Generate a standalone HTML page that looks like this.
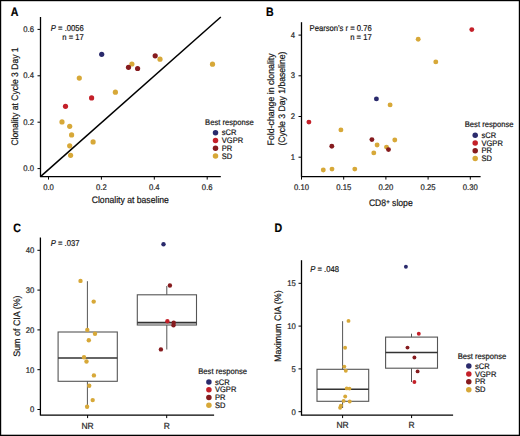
<!DOCTYPE html>
<html><head><meta charset="utf-8"><title>Figure</title>
<style>
html,body{margin:0;padding:0;background:#fff;}
body{width:520px;height:436px;overflow:hidden;}
svg{display:block;}
text{font-family:"Liberation Sans", sans-serif;text-rendering:geometricPrecision;}
</style></head>
<body>
<svg width="520" height="436" viewBox="0 0 520 436">
<rect x="0" y="0" width="520" height="436" fill="#fff"/>
<text transform="translate(10.8,16.0) scale(0.87,1)" font-size="12.2" text-anchor="start" fill="#000" stroke="#000" stroke-width="0.2" font-weight="bold" >A</text>
<circle cx="101.7" cy="54.3" r="2.6" fill="#2a2a6c"/>
<circle cx="79.3" cy="78.1" r="2.6" fill="#d7a838"/>
<circle cx="115.4" cy="92.2" r="2.6" fill="#d7a838"/>
<circle cx="91.6" cy="97.9" r="2.6" fill="#c42029"/>
<circle cx="65.5" cy="106.3" r="2.6" fill="#c42029"/>
<circle cx="131.9" cy="64.0" r="2.6" fill="#d7a838"/>
<circle cx="128.5" cy="67.3" r="2.6" fill="#861b1e"/>
<circle cx="137.6" cy="68.5" r="2.6" fill="#861b1e"/>
<circle cx="155.2" cy="55.8" r="2.6" fill="#861b1e"/>
<circle cx="160.0" cy="59.2" r="2.6" fill="#d7a838"/>
<circle cx="212.5" cy="64.2" r="2.6" fill="#d7a838"/>
<circle cx="62.0" cy="121.9" r="2.6" fill="#d7a838"/>
<circle cx="69.7" cy="126.3" r="2.6" fill="#d7a838"/>
<circle cx="71.6" cy="134.9" r="2.6" fill="#d7a838"/>
<circle cx="69.7" cy="145.8" r="2.6" fill="#d7a838"/>
<circle cx="70.6" cy="155.3" r="2.6" fill="#d7a838"/>
<circle cx="93.1" cy="141.9" r="2.6" fill="#d7a838"/>
<line x1="40.5" y1="176.6" x2="220.8" y2="17" stroke="#000" stroke-width="1.5"/>
<line x1="40.5" y1="17" x2="40.5" y2="176.9" stroke="#000000" stroke-width="1.3"/>
<line x1="37.5" y1="168.6" x2="40.5" y2="168.6" stroke="#000000" stroke-width="1.0"/>
<text transform="translate(34.0,171.25) scale(0.94,1)" font-size="8.2" text-anchor="end" fill="#262626" stroke="#262626" stroke-width="0.2" font-weight="normal" >0.0</text>
<line x1="37.5" y1="122.2" x2="40.5" y2="122.2" stroke="#000000" stroke-width="1.0"/>
<text transform="translate(34.0,124.85) scale(0.94,1)" font-size="8.2" text-anchor="end" fill="#262626" stroke="#262626" stroke-width="0.2" font-weight="normal" >0.2</text>
<line x1="37.5" y1="75.8" x2="40.5" y2="75.8" stroke="#000000" stroke-width="1.0"/>
<text transform="translate(34.0,78.45) scale(0.94,1)" font-size="8.2" text-anchor="end" fill="#262626" stroke="#262626" stroke-width="0.2" font-weight="normal" >0.4</text>
<line x1="37.5" y1="29.4" x2="40.5" y2="29.4" stroke="#000000" stroke-width="1.0"/>
<text transform="translate(34.0,32.05) scale(0.94,1)" font-size="8.2" text-anchor="end" fill="#262626" stroke="#262626" stroke-width="0.2" font-weight="normal" >0.6</text>
<line x1="40" y1="176.6" x2="220.8" y2="176.6" stroke="#000000" stroke-width="1.3"/>
<line x1="48.5" y1="176.6" x2="48.5" y2="179.6" stroke="#000000" stroke-width="1.0"/>
<text transform="translate(48.5,189.8) scale(0.94,1)" font-size="8.2" text-anchor="middle" fill="#262626" stroke="#262626" stroke-width="0.2" font-weight="normal" >0.0</text>
<line x1="101.4" y1="176.6" x2="101.4" y2="179.6" stroke="#000000" stroke-width="1.0"/>
<text transform="translate(101.4,189.8) scale(0.94,1)" font-size="8.2" text-anchor="middle" fill="#262626" stroke="#262626" stroke-width="0.2" font-weight="normal" >0.2</text>
<line x1="154.3" y1="176.6" x2="154.3" y2="179.6" stroke="#000000" stroke-width="1.0"/>
<text transform="translate(154.3,189.8) scale(0.94,1)" font-size="8.2" text-anchor="middle" fill="#262626" stroke="#262626" stroke-width="0.2" font-weight="normal" >0.4</text>
<line x1="207.2" y1="176.6" x2="207.2" y2="179.6" stroke="#000000" stroke-width="1.0"/>
<text transform="translate(207.2,189.8) scale(0.94,1)" font-size="8.2" text-anchor="middle" fill="#262626" stroke="#262626" stroke-width="0.2" font-weight="normal" >0.6</text>
<text transform="translate(17.5,96.5) rotate(-90) scale(0.915,1)" font-size="9.4" text-anchor="middle" fill="#151515" stroke="#151515" stroke-width="0.2">Clonality at Cycle 3 Day 1</text>
<text transform="translate(130.3,203.1) scale(0.92,1)" font-size="9.4" text-anchor="middle" fill="#151515" stroke="#151515" stroke-width="0.2" font-weight="normal" >Clonality at baseline</text>
<text transform="translate(83.8,30.9) scale(0.9,1)" font-size="8.5" text-anchor="end" fill="#151515" stroke="#151515" stroke-width="0.2" font-weight="normal" ><tspan font-style="italic">P</tspan> = .0056</text>
<text transform="translate(83.8,39.8) scale(0.9,1)" font-size="8.5" text-anchor="end" fill="#151515" stroke="#151515" stroke-width="0.2" font-weight="normal" >n = 17</text>
<text transform="translate(205.1,124.8) scale(0.94,1)" font-size="8.1" text-anchor="start" fill="#151515" stroke="#151515" stroke-width="0.2" font-weight="normal" >Best response</text>
<circle cx="215.5" cy="132.7" r="2.75" fill="#2a2a6c"/>
<text transform="translate(221.8,135.3) scale(0.94,1)" font-size="8.0" text-anchor="start" fill="#151515" stroke="#151515" stroke-width="0.2" font-weight="normal" >sCR</text>
<circle cx="215.5" cy="140.6" r="2.75" fill="#c42029"/>
<text transform="translate(221.8,143.2) scale(0.94,1)" font-size="8.0" text-anchor="start" fill="#151515" stroke="#151515" stroke-width="0.2" font-weight="normal" >VGPR</text>
<circle cx="215.5" cy="148.3" r="2.75" fill="#861b1e"/>
<text transform="translate(221.8,150.9) scale(0.94,1)" font-size="8.0" text-anchor="start" fill="#151515" stroke="#151515" stroke-width="0.2" font-weight="normal" >PR</text>
<circle cx="215.5" cy="156.1" r="2.75" fill="#d7a838"/>
<text transform="translate(221.8,158.7) scale(0.94,1)" font-size="8.0" text-anchor="start" fill="#151515" stroke="#151515" stroke-width="0.2" font-weight="normal" >SD</text>
<text transform="translate(266.0,16.0) scale(0.87,1)" font-size="12.2" text-anchor="start" fill="#000" stroke="#000" stroke-width="0.2" font-weight="bold" >B</text>
<circle cx="471.8" cy="29.6" r="2.45" fill="#c42029"/>
<circle cx="418.2" cy="39.2" r="2.45" fill="#d7a838"/>
<circle cx="435.8" cy="61.9" r="2.45" fill="#d7a838"/>
<circle cx="376.4" cy="98.9" r="2.45" fill="#2a2a6c"/>
<circle cx="390.1" cy="104.9" r="2.45" fill="#d7a838"/>
<circle cx="308.9" cy="122.1" r="2.45" fill="#c42029"/>
<circle cx="340.9" cy="129.9" r="2.45" fill="#d7a838"/>
<circle cx="371.9" cy="139.6" r="2.45" fill="#861b1e"/>
<circle cx="394.8" cy="140.0" r="2.45" fill="#d7a838"/>
<circle cx="331.8" cy="146.2" r="2.45" fill="#861b1e"/>
<circle cx="377.1" cy="145.0" r="2.45" fill="#d7a838"/>
<circle cx="386.5" cy="147.1" r="2.45" fill="#d7a838"/>
<circle cx="388.5" cy="149.6" r="2.45" fill="#861b1e"/>
<circle cx="373.8" cy="152.9" r="2.45" fill="#d7a838"/>
<circle cx="323.3" cy="170.0" r="2.45" fill="#d7a838"/>
<circle cx="332.0" cy="169.1" r="2.45" fill="#d7a838"/>
<circle cx="354.8" cy="169.1" r="2.45" fill="#d7a838"/>
<line x1="301.5" y1="22.2" x2="301.5" y2="176.9" stroke="#000000" stroke-width="1.3"/>
<line x1="298.5" y1="157.2" x2="301.5" y2="157.2" stroke="#000000" stroke-width="1.0"/>
<text transform="translate(295.1,159.85) scale(0.94,1)" font-size="8.2" text-anchor="end" fill="#262626" stroke="#262626" stroke-width="0.2" font-weight="normal" >1</text>
<line x1="298.5" y1="116.5" x2="301.5" y2="116.5" stroke="#000000" stroke-width="1.0"/>
<text transform="translate(295.1,119.15) scale(0.94,1)" font-size="8.2" text-anchor="end" fill="#262626" stroke="#262626" stroke-width="0.2" font-weight="normal" >2</text>
<line x1="298.5" y1="75.8" x2="301.5" y2="75.8" stroke="#000000" stroke-width="1.0"/>
<text transform="translate(295.1,78.45) scale(0.94,1)" font-size="8.2" text-anchor="end" fill="#262626" stroke="#262626" stroke-width="0.2" font-weight="normal" >3</text>
<line x1="298.5" y1="35.1" x2="301.5" y2="35.1" stroke="#000000" stroke-width="1.0"/>
<text transform="translate(295.1,37.75) scale(0.94,1)" font-size="8.2" text-anchor="end" fill="#262626" stroke="#262626" stroke-width="0.2" font-weight="normal" >4</text>
<line x1="301.5" y1="176.6" x2="480.6" y2="176.6" stroke="#000000" stroke-width="1.3"/>
<line x1="301.5" y1="176.6" x2="301.5" y2="179.6" stroke="#000000" stroke-width="1.0"/>
<text transform="translate(301.5,189.8) scale(0.94,1)" font-size="8.2" text-anchor="middle" fill="#262626" stroke="#262626" stroke-width="0.2" font-weight="normal" >0.10</text>
<line x1="343.7" y1="176.6" x2="343.7" y2="179.6" stroke="#000000" stroke-width="1.0"/>
<text transform="translate(343.7,189.8) scale(0.94,1)" font-size="8.2" text-anchor="middle" fill="#262626" stroke="#262626" stroke-width="0.2" font-weight="normal" >0.15</text>
<line x1="385.9" y1="176.6" x2="385.9" y2="179.6" stroke="#000000" stroke-width="1.0"/>
<text transform="translate(385.9,189.8) scale(0.94,1)" font-size="8.2" text-anchor="middle" fill="#262626" stroke="#262626" stroke-width="0.2" font-weight="normal" >0.20</text>
<line x1="428.1" y1="176.6" x2="428.1" y2="179.6" stroke="#000000" stroke-width="1.0"/>
<text transform="translate(428.1,189.8) scale(0.94,1)" font-size="8.2" text-anchor="middle" fill="#262626" stroke="#262626" stroke-width="0.2" font-weight="normal" >0.25</text>
<line x1="470.3" y1="176.6" x2="470.3" y2="179.6" stroke="#000000" stroke-width="1.0"/>
<text transform="translate(470.3,189.8) scale(0.94,1)" font-size="8.2" text-anchor="middle" fill="#262626" stroke="#262626" stroke-width="0.2" font-weight="normal" >0.30</text>
<text transform="translate(273.8,99.4) rotate(-90) scale(0.935,1)" font-size="9.4" text-anchor="middle" fill="#151515" stroke="#151515" stroke-width="0.2">Fold-change in clonality</text>
<text transform="translate(285.0,98.6) rotate(-90) scale(0.92,1)" font-size="9.4" text-anchor="middle" fill="#151515" stroke="#151515" stroke-width="0.2">(Cycle 3 Day 1/baseline)</text>
<text transform="translate(390.8,206.4) scale(0.92,1)" font-size="9.4" text-anchor="middle" fill="#151515" stroke="#151515" stroke-width="0.2" font-weight="normal" >CD8<tspan font-size="6.6" dy="-2.4">+</tspan><tspan dy="2.4"> slope</tspan></text>
<text transform="translate(371.7,30.9) scale(0.9,1)" font-size="8.5" text-anchor="end" fill="#151515" stroke="#151515" stroke-width="0.2" font-weight="normal" >Pearson’s r = 0.76</text>
<text transform="translate(371.7,39.8) scale(0.9,1)" font-size="8.5" text-anchor="end" fill="#151515" stroke="#151515" stroke-width="0.2" font-weight="normal" >n = 17</text>
<text transform="translate(464.8,126.6) scale(0.94,1)" font-size="8.1" text-anchor="start" fill="#151515" stroke="#151515" stroke-width="0.2" font-weight="normal" >Best response</text>
<circle cx="475.2" cy="135.3" r="2.75" fill="#2a2a6c"/>
<text transform="translate(481.5,137.9) scale(0.94,1)" font-size="8.0" text-anchor="start" fill="#151515" stroke="#151515" stroke-width="0.2" font-weight="normal" >sCR</text>
<circle cx="475.2" cy="143.1" r="2.75" fill="#c42029"/>
<text transform="translate(481.5,145.7) scale(0.94,1)" font-size="8.0" text-anchor="start" fill="#151515" stroke="#151515" stroke-width="0.2" font-weight="normal" >VGPR</text>
<circle cx="475.2" cy="150.8" r="2.75" fill="#861b1e"/>
<text transform="translate(481.5,153.4) scale(0.94,1)" font-size="8.0" text-anchor="start" fill="#151515" stroke="#151515" stroke-width="0.2" font-weight="normal" >PR</text>
<circle cx="475.2" cy="158.4" r="2.75" fill="#d7a838"/>
<text transform="translate(481.5,161.0) scale(0.94,1)" font-size="8.0" text-anchor="start" fill="#151515" stroke="#151515" stroke-width="0.2" font-weight="normal" >SD</text>
<text transform="translate(13.2,231.5) scale(0.87,1)" font-size="12.2" text-anchor="start" fill="#000" stroke="#000" stroke-width="0.2" font-weight="bold" >C</text>
<line x1="87.4" y1="281.2" x2="87.4" y2="332.0" stroke="#555555" stroke-width="1.0"/>
<line x1="87.4" y1="381.3" x2="87.4" y2="406.8" stroke="#555555" stroke-width="1.0"/>
<rect x="58.1" y="332.0" width="59.2" height="49.3" fill="none" stroke="#555555" stroke-width="1.1"/>
<line x1="58.1" y1="358.0" x2="117.3" y2="358.0" stroke="#333" stroke-width="1.6"/>
<line x1="166.8" y1="286.0" x2="166.8" y2="294.8" stroke="#555555" stroke-width="1.0"/>
<line x1="166.8" y1="325.0" x2="166.8" y2="349.5" stroke="#555555" stroke-width="1.0"/>
<rect x="137.3" y="294.8" width="59.2" height="30.2" fill="none" stroke="#555555" stroke-width="1.1"/>
<line x1="137.3" y1="322.6" x2="196.5" y2="322.6" stroke="#333" stroke-width="1.6"/>
<circle cx="80.5" cy="280.9" r="2.2" fill="#d7a838"/>
<circle cx="93.7" cy="301.6" r="2.2" fill="#d7a838"/>
<circle cx="87.3" cy="329.9" r="2.2" fill="#d7a838"/>
<circle cx="95.0" cy="333.8" r="2.2" fill="#d7a838"/>
<circle cx="88.8" cy="340.3" r="2.2" fill="#d7a838"/>
<circle cx="84.0" cy="357.2" r="2.2" fill="#d7a838"/>
<circle cx="86.5" cy="361.5" r="2.2" fill="#d7a838"/>
<circle cx="93.9" cy="375.4" r="2.2" fill="#d7a838"/>
<circle cx="89.2" cy="385.7" r="2.2" fill="#d7a838"/>
<circle cx="92.7" cy="400.1" r="2.2" fill="#d7a838"/>
<circle cx="87.1" cy="406.7" r="2.2" fill="#d7a838"/>
<circle cx="163.5" cy="244.2" r="2.2" fill="#2a2a6c"/>
<circle cx="169.9" cy="285.5" r="2.2" fill="#861b1e"/>
<circle cx="167.4" cy="321.3" r="2.2" fill="#c42029"/>
<circle cx="173.7" cy="322.8" r="2.2" fill="#861b1e"/>
<circle cx="173.5" cy="325.3" r="2.2" fill="#861b1e"/>
<circle cx="160.9" cy="349.4" r="2.2" fill="#861b1e"/>
<line x1="40.4" y1="237.5" x2="40.4" y2="415.5" stroke="#000000" stroke-width="1.3"/>
<line x1="37.4" y1="409.5" x2="40.4" y2="409.5" stroke="#000000" stroke-width="1.0"/>
<text transform="translate(34.3,412.4) scale(0.94,1)" font-size="8.2" text-anchor="end" fill="#262626" stroke="#262626" stroke-width="0.2" font-weight="normal" >0</text>
<line x1="37.4" y1="369.7" x2="40.4" y2="369.7" stroke="#000000" stroke-width="1.0"/>
<text transform="translate(34.3,372.6) scale(0.94,1)" font-size="8.2" text-anchor="end" fill="#262626" stroke="#262626" stroke-width="0.2" font-weight="normal" >10</text>
<line x1="37.4" y1="329.9" x2="40.4" y2="329.9" stroke="#000000" stroke-width="1.0"/>
<text transform="translate(34.3,332.8) scale(0.94,1)" font-size="8.2" text-anchor="end" fill="#262626" stroke="#262626" stroke-width="0.2" font-weight="normal" >20</text>
<line x1="37.4" y1="290.1" x2="40.4" y2="290.1" stroke="#000000" stroke-width="1.0"/>
<text transform="translate(34.3,293.0) scale(0.94,1)" font-size="8.2" text-anchor="end" fill="#262626" stroke="#262626" stroke-width="0.2" font-weight="normal" >30</text>
<line x1="37.4" y1="250.3" x2="40.4" y2="250.3" stroke="#000000" stroke-width="1.0"/>
<text transform="translate(34.3,253.2) scale(0.94,1)" font-size="8.2" text-anchor="end" fill="#262626" stroke="#262626" stroke-width="0.2" font-weight="normal" >40</text>
<line x1="40.4" y1="415.1" x2="214.1" y2="415.1" stroke="#000000" stroke-width="1.3"/>
<line x1="87.6" y1="415.1" x2="87.6" y2="418.1" stroke="#000000" stroke-width="1.0"/>
<text transform="translate(87.6,428.7) scale(0.96,1)" font-size="8.8" text-anchor="middle" fill="#262626" stroke="#262626" stroke-width="0.2" font-weight="normal" >NR</text>
<line x1="166.7" y1="415.1" x2="166.7" y2="418.1" stroke="#000000" stroke-width="1.0"/>
<text transform="translate(166.7,428.7) scale(0.96,1)" font-size="8.8" text-anchor="middle" fill="#262626" stroke="#262626" stroke-width="0.2" font-weight="normal" >R</text>
<text transform="translate(20.0,326.1) rotate(-90) scale(0.95,1)" font-size="9.4" text-anchor="middle" fill="#151515" stroke="#151515" stroke-width="0.2">Sum of CIA (%)</text>
<text transform="translate(50.8,245.5) scale(0.9,1)" font-size="8.5" text-anchor="start" fill="#151515" stroke="#151515" stroke-width="0.2" font-weight="normal" ><tspan font-style="italic">P</tspan> = .037</text>
<text transform="translate(198.3,373.6) scale(0.94,1)" font-size="8.1" text-anchor="start" fill="#151515" stroke="#151515" stroke-width="0.2" font-weight="normal" >Best response</text>
<circle cx="208.9" cy="381.9" r="2.75" fill="#2a2a6c"/>
<text transform="translate(215.0,384.5) scale(0.94,1)" font-size="8.0" text-anchor="start" fill="#151515" stroke="#151515" stroke-width="0.2" font-weight="normal" >sCR</text>
<circle cx="208.9" cy="389.7" r="2.75" fill="#c42029"/>
<text transform="translate(215.0,392.3) scale(0.94,1)" font-size="8.0" text-anchor="start" fill="#151515" stroke="#151515" stroke-width="0.2" font-weight="normal" >VGPR</text>
<circle cx="208.9" cy="397.5" r="2.75" fill="#861b1e"/>
<text transform="translate(215.0,400.1) scale(0.94,1)" font-size="8.0" text-anchor="start" fill="#151515" stroke="#151515" stroke-width="0.2" font-weight="normal" >PR</text>
<circle cx="208.9" cy="405.2" r="2.75" fill="#d7a838"/>
<text transform="translate(215.0,407.8) scale(0.94,1)" font-size="8.0" text-anchor="start" fill="#151515" stroke="#151515" stroke-width="0.2" font-weight="normal" >SD</text>
<text transform="translate(274.6,231.6) scale(0.87,1)" font-size="12.2" text-anchor="start" fill="#000" stroke="#000" stroke-width="0.2" font-weight="bold" >D</text>
<line x1="342.6" y1="321.2" x2="342.6" y2="369.3" stroke="#555555" stroke-width="1.0"/>
<line x1="342.6" y1="401.3" x2="342.6" y2="408.0" stroke="#555555" stroke-width="1.0"/>
<rect x="317.0" y="369.3" width="51.7" height="32.0" fill="none" stroke="#555555" stroke-width="1.1"/>
<line x1="317.0" y1="389.2" x2="368.7" y2="389.2" stroke="#333" stroke-width="1.6"/>
<line x1="411.5" y1="333.7" x2="411.5" y2="337.1" stroke="#555555" stroke-width="1.0"/>
<line x1="411.5" y1="368.2" x2="411.5" y2="382.0" stroke="#555555" stroke-width="1.0"/>
<rect x="385.6" y="337.1" width="51.9" height="31.1" fill="none" stroke="#555555" stroke-width="1.1"/>
<line x1="385.6" y1="352.5" x2="437.5" y2="352.5" stroke="#333" stroke-width="1.6"/>
<circle cx="348.5" cy="320.9" r="1.95" fill="#d7a838"/>
<circle cx="345.1" cy="347.7" r="1.95" fill="#d7a838"/>
<circle cx="344.3" cy="366.6" r="1.95" fill="#d7a838"/>
<circle cx="345.8" cy="370.7" r="1.95" fill="#d7a838"/>
<circle cx="346.7" cy="388.4" r="1.95" fill="#d7a838"/>
<circle cx="349.5" cy="388.6" r="1.95" fill="#d7a838"/>
<circle cx="345.2" cy="396.5" r="1.95" fill="#d7a838"/>
<circle cx="343.6" cy="400.9" r="1.95" fill="#d7a838"/>
<circle cx="349.7" cy="401.5" r="1.95" fill="#d7a838"/>
<circle cx="340.9" cy="405.6" r="1.95" fill="#d7a838"/>
<circle cx="340.1" cy="407.7" r="1.95" fill="#d7a838"/>
<circle cx="405.9" cy="266.8" r="1.95" fill="#2a2a6c"/>
<circle cx="418.8" cy="333.7" r="1.95" fill="#c42029"/>
<circle cx="407.5" cy="347.6" r="1.95" fill="#861b1e"/>
<circle cx="414.4" cy="357.5" r="1.95" fill="#861b1e"/>
<circle cx="417.6" cy="371.4" r="1.95" fill="#861b1e"/>
<circle cx="414.4" cy="382.0" r="1.95" fill="#c42029"/>
<line x1="301.5" y1="260.2" x2="301.5" y2="415.7" stroke="#000000" stroke-width="1.3"/>
<line x1="298.5" y1="411.7" x2="301.5" y2="411.7" stroke="#000000" stroke-width="1.0"/>
<text transform="translate(295.7,414.6) scale(0.94,1)" font-size="8.2" text-anchor="end" fill="#262626" stroke="#262626" stroke-width="0.2" font-weight="normal" >0</text>
<line x1="298.5" y1="368.9" x2="301.5" y2="368.9" stroke="#000000" stroke-width="1.0"/>
<text transform="translate(295.7,371.8) scale(0.94,1)" font-size="8.2" text-anchor="end" fill="#262626" stroke="#262626" stroke-width="0.2" font-weight="normal" >5</text>
<line x1="298.5" y1="326.1" x2="301.5" y2="326.1" stroke="#000000" stroke-width="1.0"/>
<text transform="translate(295.7,329.0) scale(0.94,1)" font-size="8.2" text-anchor="end" fill="#262626" stroke="#262626" stroke-width="0.2" font-weight="normal" >10</text>
<line x1="298.5" y1="283.3" x2="301.5" y2="283.3" stroke="#000000" stroke-width="1.0"/>
<text transform="translate(295.7,286.2) scale(0.94,1)" font-size="8.2" text-anchor="end" fill="#262626" stroke="#262626" stroke-width="0.2" font-weight="normal" >15</text>
<line x1="301.5" y1="415.1" x2="453.1" y2="415.1" stroke="#000000" stroke-width="1.3"/>
<line x1="342.6" y1="415.1" x2="342.6" y2="418.1" stroke="#000000" stroke-width="1.0"/>
<text transform="translate(342.6,428.4) scale(0.96,1)" font-size="8.8" text-anchor="middle" fill="#262626" stroke="#262626" stroke-width="0.2" font-weight="normal" >NR</text>
<line x1="411.6" y1="415.1" x2="411.6" y2="418.1" stroke="#000000" stroke-width="1.0"/>
<text transform="translate(411.6,428.4) scale(0.96,1)" font-size="8.8" text-anchor="middle" fill="#262626" stroke="#262626" stroke-width="0.2" font-weight="normal" >R</text>
<text transform="translate(281.1,326.2) rotate(-90) scale(0.948,1)" font-size="9.4" text-anchor="middle" fill="#151515" stroke="#151515" stroke-width="0.2">Maximum CIA (%)</text>
<text transform="translate(310.2,272.0) scale(0.9,1)" font-size="8.5" text-anchor="start" fill="#151515" stroke="#151515" stroke-width="0.2" font-weight="normal" ><tspan font-style="italic">P</tspan> = .048</text>
<text transform="translate(457.7,358.5) scale(0.94,1)" font-size="8.1" text-anchor="start" fill="#151515" stroke="#151515" stroke-width="0.2" font-weight="normal" >Best response</text>
<circle cx="468.8" cy="366.0" r="2.75" fill="#2a2a6c"/>
<text transform="translate(475.0,368.6) scale(0.94,1)" font-size="8.0" text-anchor="start" fill="#151515" stroke="#151515" stroke-width="0.2" font-weight="normal" >sCR</text>
<circle cx="468.8" cy="374.0" r="2.75" fill="#c42029"/>
<text transform="translate(475.0,376.6) scale(0.94,1)" font-size="8.0" text-anchor="start" fill="#151515" stroke="#151515" stroke-width="0.2" font-weight="normal" >VGPR</text>
<circle cx="468.8" cy="381.8" r="2.75" fill="#861b1e"/>
<text transform="translate(475.0,384.4) scale(0.94,1)" font-size="8.0" text-anchor="start" fill="#151515" stroke="#151515" stroke-width="0.2" font-weight="normal" >PR</text>
<circle cx="468.8" cy="389.8" r="2.75" fill="#d7a838"/>
<text transform="translate(475.0,392.4) scale(0.94,1)" font-size="8.0" text-anchor="start" fill="#151515" stroke="#151515" stroke-width="0.2" font-weight="normal" >SD</text>
<rect x="0.55" y="0.55" width="518.9" height="434.8" fill="none" stroke="#000" stroke-width="1.3"/>
</svg>
</body></html>
